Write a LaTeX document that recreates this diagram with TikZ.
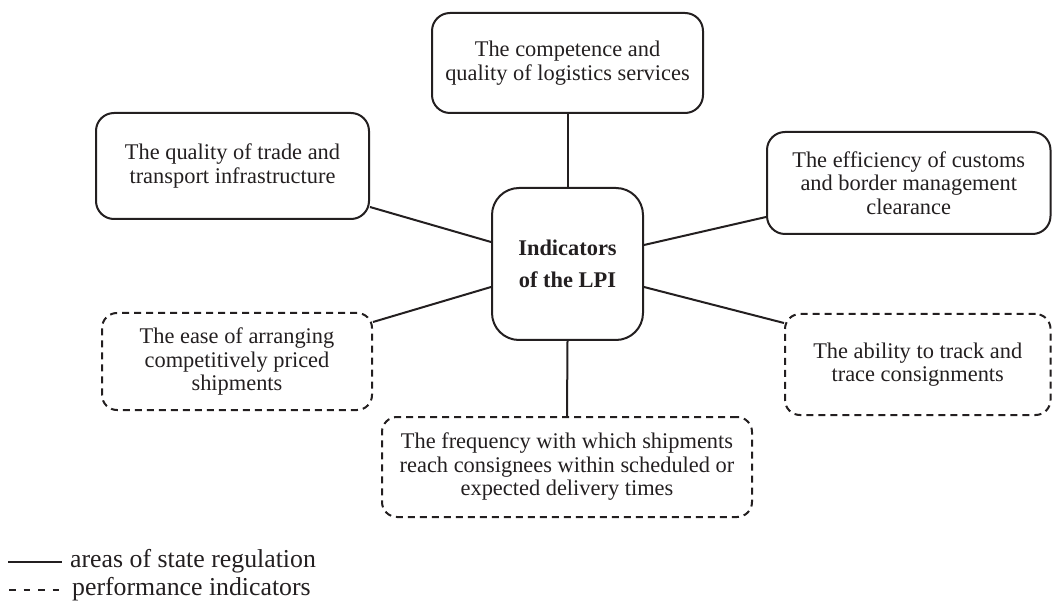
\documentclass[tikz,border=0pt]{standalone}
\usepackage{fontspec}
\setmainfont{Liberation Serif}
\definecolor{ink}{HTML}{231F20}
\begin{document}
\begin{tikzpicture}[x=1pt,y=-1pt,
  box/.style={draw=ink, line width=2pt, rounded corners=18pt, align=center,
    inner sep=0pt, text=ink, font=\fontsize{22.4pt}{23.5pt}\selectfont},
  dashbox/.style={box, dash pattern=on 7pt off 5pt, rounded corners=15pt},
  hub/.style={box, rounded corners=27pt,
    font=\bfseries\fontsize{22.4pt}{32pt}\selectfont},
  link/.style={draw=ink, line width=2pt},
  legendtext/.style={anchor=base west, inner sep=0pt, text=ink,
    font=\fontsize{25.8pt}{28pt}\selectfont}
]
\useasboundingbox (0,0) rectangle (1052,601);

% central hub
\node[hub, minimum width=151pt, minimum height=152pt] (lpi) at (567.5,264)
  {Indicators\\of the LPI};

% areas of state regulation (solid frames)
\node[box, minimum width=271pt, minimum height=100pt] (comp) at (567.5,63)
  {The competence and\\quality of logistics services};
\node[box, minimum width=273pt, minimum height=106pt] (infra) at (232.5,166)
  {The quality of trade and\\transport infrastructure};
\node[box, minimum width=283.5pt, minimum height=102pt] (customs) at (908.75,183)
  {The efficiency of customs\\and border management\\clearance};

% performance indicators (dashed frames)
\node[dashbox, minimum width=270pt, minimum height=97pt] (price) at (237,361.5)
  {The ease of arranging\\competitively priced\\shipments};
\node[dashbox, minimum width=265.5pt, minimum height=101pt] (track) at (917.75,364.5)
  {The ability to track and\\trace consignments};
\node[dashbox, minimum width=370pt, minimum height=100pt] (time) at (567,467)
  {The frequency with which shipments\\reach consignees within scheduled or\\expected delivery times};

% connectors
\draw[link] (comp.south) -- (lpi.north);
\draw[link] ([yshift=-41pt]infra.east) -- ([yshift=22pt]lpi.west);
\draw[link] ([yshift=39.5pt]price.east) -- ([yshift=-23pt]lpi.west);
\draw[link] ([yshift=19pt]lpi.east) -- ([yshift=-34pt]customs.west);
\draw[link] ([yshift=-23pt]lpi.east) -- ([yshift=41.5pt]track.west);
\draw[link] (lpi.south) -- (time.north);

% legend
\node[legendtext] (legsolid) at (70,567) {areas of state regulation};
\node[legendtext] (legdash) at (72,595) {performance indicators};
\draw[draw=ink, line width=1.5pt] (8,562) -- ([xshift=-8pt]legsolid.base west |- 0,562);
\draw[draw=ink, line width=2pt, dash pattern=on 6.5pt off 8pt] (9,590) -- (61,590);
\end{tikzpicture}
\end{document}
